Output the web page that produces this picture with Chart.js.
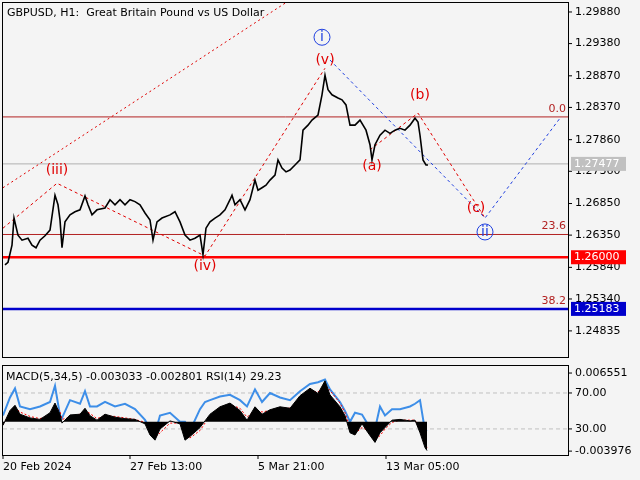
<!DOCTYPE html>
<html><head><meta charset="utf-8">
<script src="https://cdn.jsdelivr.net/npm/chart.js@4"></script>
<style>
body{margin:0;background:#f4f4f4;width:640px;height:480px;overflow:hidden;position:relative}
canvas{position:absolute;left:0}
</style></head><body>
<canvas id="c1" width="640" height="360" style="top:0;width:640px;height:360px"></canvas>
<canvas id="c2" width="640" height="120" style="top:360px;width:640px;height:120px"></canvas>
<script>
const priceX=[2,5,9,11,15,19,25,29,33,37,42,47,52,55,57,59,62,67,72,77,82,85,89,94,102,107,112,117,122,127,132,137,142,147,150,154,159,167,172,177,182,187,192,197,200,203,207,212,217,222,227,229,232,237,242,247,252,255,259,263,267,272,275,279,283,287,292,297,300,305,309,315,319,322,325,329,335,339,343,347,352,357,363,367,369,372,377,382,387,392,397,402,407,412,415,417,420,423,425];
const priceY=[1.2588,1.2592,1.2619,1.2662,1.2635,1.2627,1.2630,1.2619,1.2615,1.2627,1.2634,1.2643,1.2698,1.2683,1.2659,1.2615,1.2656,1.2667,1.2672,1.2675,1.2697,1.2683,1.2667,1.2675,1.2678,1.2691,1.2683,1.2691,1.2683,1.2691,1.2688,1.2683,1.2670,1.2659,1.2627,1.2656,1.2662,1.2667,1.2672,1.2656,1.2635,1.2627,1.2630,1.2635,1.2604,1.2646,1.2656,1.2662,1.2667,1.2675,1.2691,1.2698,1.2683,1.2691,1.2675,1.2691,1.2722,1.2706,1.2710,1.2714,1.2722,1.2730,1.2754,1.2741,1.2735,1.2738,1.2746,1.2754,1.2801,1.2809,1.2817,1.2825,1.2857,1.2888,1.2865,1.2857,1.2852,1.2849,1.2841,1.2809,1.2809,1.2817,1.2801,1.2778,1.2754,1.2778,1.2793,1.2801,1.2796,1.2801,1.2804,1.2801,1.2809,1.2820,1.2814,1.2793,1.2754,1.2746,1.2746];
const indX=[0,7,12,17,27,37,47,52,57,59,67,77,82,87,94,102,112,122,132,142,147,152,157,167,177,182,187,197,202,207,217,227,237,244,252,259,267,277,287,297,307,315,322,327,337,342,347,352,359,365,372,377,382,389,397,407,412,417,422,424];
const macd=[-0.0005,0.0015,0.0022,0.0010,0.0005,0.0003,0.0012,0.0025,0.0010,-0.0002,0.0009,0.0010,0.0018,0.0008,0.0002,0.0010,0.0006,0.0004,0.0003,-0.0003,-0.0018,-0.0025,-0.0010,0.0001,-0.0003,-0.0025,-0.0020,-0.0008,0.0001,0.0010,0.0020,0.0025,0.0015,0.0002,0.0020,0.0010,0.0016,0.0020,0.0018,0.0035,0.0045,0.0038,0.0055,0.0036,0.0020,0.0008,-0.0015,-0.0018,-0.0003,-0.0015,-0.0028,-0.0015,-0.0008,0.0002,0.0003,0.0001,0.0002,-0.0015,-0.0035,-0.0039];
const signal=[-0.0003,0.0010,0.0019,0.0013,0.0007,0.0004,0.0009,0.0020,0.0014,0.0003,0.0006,0.0010,0.0015,0.0011,0.0004,0.0008,0.0007,0.0005,0.0003,-0.0001,-0.0012,-0.0022,-0.0015,-0.0002,-0.0002,-0.0018,-0.0022,-0.0012,-0.0002,0.0007,0.0017,0.0023,0.0018,0.0006,0.0015,0.0013,0.0015,0.0019,0.0018,0.0030,0.0041,0.0040,0.0050,0.0042,0.0025,0.0012,-0.0008,-0.0016,-0.0008,-0.0012,-0.0024,-0.0019,-0.0010,-0.0001,0.0002,0.0002,0.0002,-0.0010,-0.0028,-0.0035];
const rsi=[45,65,75,55,52,55,60,78,45,42,62,58,72,55,55,60,55,58,52,40,30,25,45,48,38,38,28,52,60,62,66,68,62,55,74,60,70,65,62,72,80,82,85,74,60,50,38,48,46,35,30,55,45,52,52,55,58,62,28,29];
const priceTicks=[1.29880,1.29380,1.28870,1.28370,1.27860,1.27360,1.26850,1.26350,1.25840,1.25340,1.24835];
const dateLabels=["20 Feb 2024","27 Feb 13:00","5 Mar 21:00","13 Mar 05:00"];
const dateX=[0,127,255,383];
const levels=[{v:1.2822,c:'#b22222',w:1,t:'0.0'},{v:1.27477,c:'#b0b0b0',w:1,box:'#c0c0c0'},{v:1.2636,c:'#b22222',w:1,t:'23.6'},{v:1.26000,c:'#ff0000',w:2.5,box:'#ff0000'},{v:1.25183,c:'#0000cc',w:2.5,box:'#0000cc',t:'38.2'}];
const waves=[
 {c:'#e00000',d:[2,3],p:[[0,1.2710],[287,1.3007]]},
 {c:'#e00000',d:[3,3],p:[[0,1.2646],[54,1.2717],[202,1.2602],[322,1.2899]]},
 {c:'#2040e0',d:[3,3],p:[[327,1.2912],[482,1.2662],[557,1.2820]]},
 {c:'#e00000',d:[3,3],p:[[367,1.2770],[415,1.2828],[482,1.2662]]}];
const marks=[{t:'(iii)',x:54,v:1.2738,c:'#e00000'},{t:'(iv)',x:202,v:1.2585,c:'#e00000'},{t:'(v)',x:322,v:1.2911,c:'#e00000'},{t:'(a)',x:369,v:1.2744,c:'#e00000'},{t:'(b)',x:417,v:1.2856,c:'#e00000'},{t:'(c)',x:473,v:1.2678,c:'#e00000'},{t:'i',x:319,v:1.2948,c:'#2040e0',circ:1},{t:'ii',x:482,v:1.2640,c:'#2040e0',circ:1}];
const F='11px "DejaVu Sans"';
function pts(xs,ys){return xs.map((x,i)=>({x,y:ys[i]}));}
const mainPlug={id:'m',beforeDraw(ch){const {ctx}=ch;ctx.save();ctx.fillStyle='#f4f4f4';ctx.fillRect(0,0,640,360);ctx.restore();},
 beforeDatasetsDraw(ch){const {ctx,chartArea:a,scales:{x,y}}=ch;ctx.save();
  ctx.beginPath();ctx.rect(a.left,a.top,a.right-a.left,a.bottom-a.top);ctx.clip();
  levels.forEach(l=>{const py=y.getPixelForValue(l.v);ctx.strokeStyle=l.c;ctx.lineWidth=l.w;ctx.beginPath();ctx.moveTo(a.left,py);ctx.lineTo(a.right,py);ctx.stroke();
   if(l.t){ctx.fillStyle='#b22222';ctx.font=F;ctx.textAlign='right';ctx.fillText(l.t,a.right-2,py-5);}});
  waves.forEach(w=>{ctx.strokeStyle=w.c;ctx.lineWidth=1;ctx.setLineDash(w.d);ctx.beginPath();w.p.forEach((p,i)=>{const px=x.getPixelForValue(p[0]),py=y.getPixelForValue(p[1]);i?ctx.lineTo(px,py):ctx.moveTo(px,py);});ctx.stroke();});
  ctx.setLineDash([]);ctx.restore();},
 afterDraw(ch){const {ctx,chartArea:a,scales:{x,y}}=ch;ctx.save();
  ctx.font='14px "DejaVu Sans"';ctx.textAlign='center';ctx.textBaseline='middle';
  marks.forEach(m=>{const px=x.getPixelForValue(m.x),py=y.getPixelForValue(m.v);ctx.fillStyle=m.c;ctx.fillText(m.t,px,py);
   if(m.circ){ctx.strokeStyle=m.c;ctx.lineWidth=1;ctx.beginPath();ctx.arc(px,py,8,0,7);ctx.stroke();}});
  ctx.strokeStyle='#000';ctx.lineWidth=1;ctx.strokeRect(a.left-0.5,a.top-0.5,a.right-a.left+1,a.bottom-a.top+1);
  ctx.font=F;ctx.textAlign='left';ctx.fillStyle='#000';ctx.textBaseline='middle';
  priceTicks.forEach(t=>{const py=y.getPixelForValue(t);ctx.beginPath();ctx.moveTo(a.right,py);ctx.lineTo(a.right+4,py);ctx.stroke();ctx.fillText(t.toFixed(5),a.right+7,py);});
  levels.forEach(l=>{if(!l.box)return;const py=y.getPixelForValue(l.v);ctx.fillStyle=l.box;ctx.fillRect(a.right+3,py-7,55,14);ctx.fillStyle='#fff';ctx.fillText(l.v.toFixed(5),a.right+6,py);});
  ctx.fillStyle='#000';ctx.textBaseline='alphabetic';ctx.fillText('GBPUSD, H1:  Great Britain Pound vs US Dollar',7,16);
  ctx.restore();}};
new Chart(document.getElementById('c1'),{type:'line',data:{datasets:[{data:pts(priceX,priceY),borderColor:'#000',borderWidth:1.6,pointRadius:0,tension:0}]},
 options:{animation:false,responsive:false,devicePixelRatio:1,layout:{padding:{left:3,right:72,top:3,bottom:3}},plugins:{legend:{display:false},tooltip:{enabled:false}},
 scales:{x:{type:'linear',display:false,min:0,max:565},y:{display:false,min:1.24422,max:1.30022}}},plugins:[mainPlug]});
const indPlug={id:'i',beforeDraw(ch){const {ctx}=ch;ctx.fillStyle='#f4f4f4';ctx.fillRect(0,0,640,120);},
 beforeDatasetsDraw(ch){const {ctx,chartArea:a,scales}=ch;const r=scales.rsi;ctx.save();ctx.strokeStyle='#c0c0c0';ctx.setLineDash([4,3]);
  [70,30].forEach(v=>{const py=r.getPixelForValue(v);ctx.beginPath();ctx.moveTo(a.left,py);ctx.lineTo(a.right,py);ctx.stroke();});ctx.restore();},
 afterDraw(ch){const {ctx,chartArea:a,scales}=ch;const x=scales.x,y=scales.y,r=scales.rsi;ctx.save();ctx.strokeStyle='#000';ctx.lineWidth=1;
  ctx.strokeRect(a.left-0.5,a.top-0.5,a.right-a.left+1,a.bottom-a.top+1);
  ctx.font=F;ctx.fillStyle='#000';ctx.textBaseline='middle';ctx.textAlign='left';
  [[y.getPixelForValue(0.006551),'0.006551'],[r.getPixelForValue(70),'70.00'],[r.getPixelForValue(30),'30.00'],[y.getPixelForValue(-0.003976),'-0.003976']].forEach(([py,t])=>{ctx.beginPath();ctx.moveTo(a.right,py);ctx.lineTo(a.right+4,py);ctx.stroke();ctx.fillText(t,a.right+7,py);});
  ctx.fillText('MACD(5,34,5) -0.003033 -0.002801 RSI(14) 29.23',6,a.top+11);
  ctx.textBaseline='alphabetic';
  dateLabels.forEach((t,i)=>{const px=x.getPixelForValue(dateX[i]);ctx.beginPath();ctx.moveTo(px,a.bottom);ctx.lineTo(px,a.bottom+4);ctx.stroke();ctx.fillText(t,px,a.bottom+15);});
  ctx.restore();}};
new Chart(document.getElementById('c2'),{type:'line',data:{datasets:[
 {data:pts(indX,macd),borderColor:'#000',backgroundColor:'#000',fill:{value:0},borderWidth:1,pointRadius:0,yAxisID:'y'},
 {data:pts(indX,signal),borderColor:'#ff0000',borderDash:[2,2],borderWidth:1,pointRadius:0,yAxisID:'y'},
 {data:pts(indX,rsi),borderColor:'#3d8ee8',borderWidth:2,pointRadius:0,yAxisID:'rsi'}]},
 options:{animation:false,responsive:false,devicePixelRatio:1,layout:{padding:{left:3,right:72,top:6,bottom:25}},plugins:{legend:{display:false},tooltip:{enabled:false}},
 scales:{x:{type:'linear',display:false,min:0,max:565},y:{display:false,min:-0.0045,max:0.0075},rsi:{type:'linear',axis:'y',display:false,min:1,max:100}}},plugins:[indPlug]});
</script></body></html>
